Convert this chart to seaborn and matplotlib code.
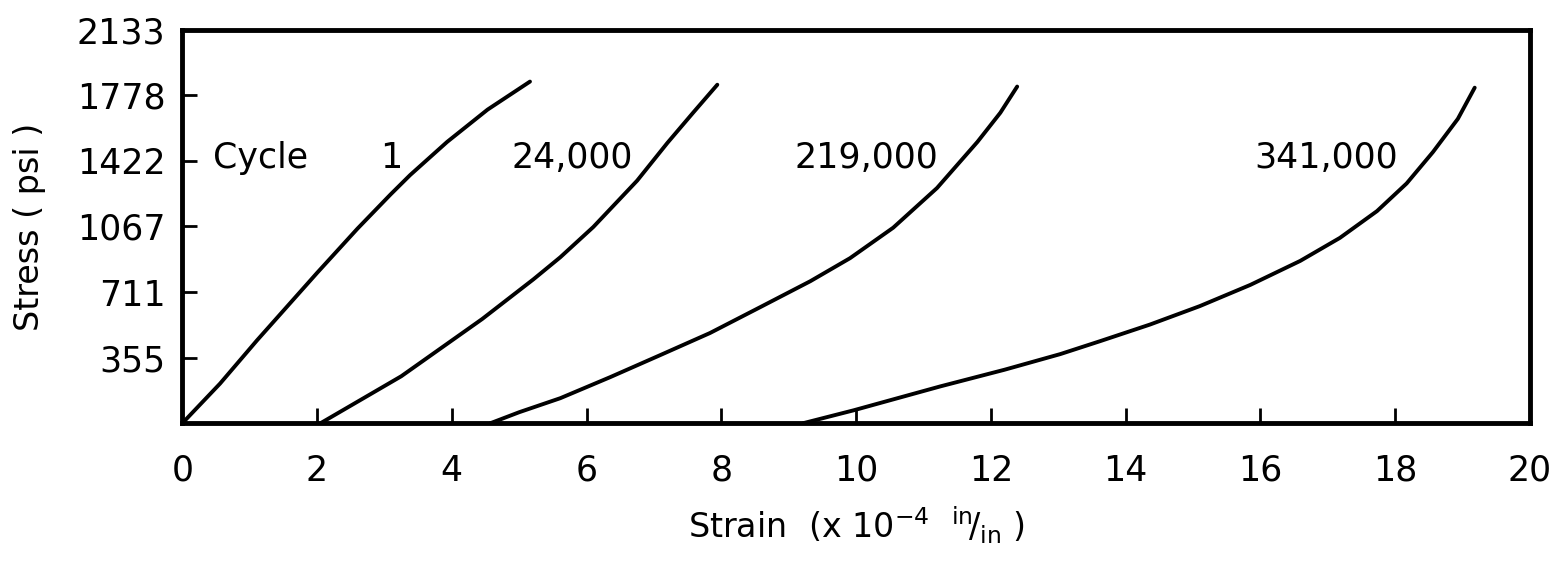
import matplotlib
matplotlib.use("Agg")
import matplotlib.pyplot as plt
import pandas as pd
import seaborn as sns

# strain (x 10^-4 in/in) and stress (psi)
cycle1_x = [0.0, 0.56, 1.11, 2.00, 2.60, 3.09, 3.38, 3.93, 4.53, 5.16]
cycle1_y = [0, 215, 450, 815, 1055, 1240, 1345, 1525, 1700, 1852]

cycle24k_x = [2.05, 3.25, 4.45, 5.21, 5.61, 6.10, 6.75, 7.20, 7.58, 7.94]
cycle24k_y = [0, 255, 565, 780, 900, 1064, 1315, 1520, 1683, 1835]

cycle219k_x = [4.57, 5.00, 5.61, 6.35, 7.09, 7.83, 8.58, 9.32, 9.91, 10.55, 11.20,
               11.80, 12.14, 12.39]
cycle219k_y = [0, 60, 136, 250, 369, 489, 630, 770, 895, 1060, 1275,
               1525, 1683, 1825]

cycle341k_x = [9.21, 9.96, 11.25, 12.20, 13.03, 13.62, 14.36, 15.10, 15.85, 16.59,
               17.18, 17.73, 18.17, 18.56, 18.93, 19.18]
cycle341k_y = [0, 70, 200, 290, 375, 445, 535, 635, 750, 880,
               1005, 1150, 1300, 1470, 1650, 1819]

curve_labels = ["1", "24,000", "219,000", "341,000"]
label_x = [3.1, 5.78, 10.15, 16.97]
label_y = [1440, 1440, 1440, 1440]

x_ticks = [0, 2, 4, 6, 8, 10, 12, 14, 16, 18, 20]
y_ticks = [355, 711, 1067, 1422, 1778, 2133]

sns.set_theme(style="white")
plt.rcParams["font.family"] = ["DejaVu Sans"]
plt.rcParams["mathtext.fontset"] = "dejavusans"

curves = [(cycle1_x, cycle1_y), (cycle24k_x, cycle24k_y),
          (cycle219k_x, cycle219k_y), (cycle341k_x, cycle341k_y)]
frames = []
for name, (xs, ys) in zip(curve_labels, curves):
    frames.append(pd.DataFrame({"strain": xs, "stress": ys, "cycle": name}))
data = pd.concat(frames, ignore_index=True)

fig = plt.figure(figsize=(15.58, 5.72), dpi=100)
ax = fig.add_axes([0.117, 0.26, 0.865, 0.688])

for name in curve_labels:
    sub = data[data["cycle"] == name]
    sns.lineplot(data=sub, x="strain", y="stress", ax=ax, color="black",
                 linewidth=2.8, sort=False, estimator=None)

ax.set_xlim(0, 20)
ax.set_ylim(0, 2133)
ax.set_xticks(x_ticks)
ax.set_yticks(y_ticks)
ax.set_xticklabels([str(t) for t in x_ticks])
ax.set_yticklabels([str(t) for t in y_ticks])
ax.tick_params(axis="x", direction="in", length=11, width=2, pad=22,
               labelsize=25, colors="black", bottom=True, top=False)
ax.tick_params(axis="y", direction="in", length=11, width=2, pad=12,
               labelsize=25, colors="black", left=True, right=False)

for side in ax.spines.values():
    side.set_linewidth(3.5)
    side.set_color("black")

ax.set_xlabel("Strain  (x 10$^{-4}$  $^{\\mathrm{in}}\\!/_{\\mathrm{in}}$ )",
              fontsize=24, color="black", labelpad=12)
ax.set_ylabel("Stress ( psi )", fontsize=24, color="black", labelpad=22)

ax.text(0.46, 1440, "Cycle", fontsize=25, ha="left", va="center", color="black")
for txt, lx, ly in zip(curve_labels, label_x, label_y):
    ax.text(lx, ly, txt, fontsize=25, ha="center", va="center", color="black")

fig.savefig("out.png", dpi=100)
